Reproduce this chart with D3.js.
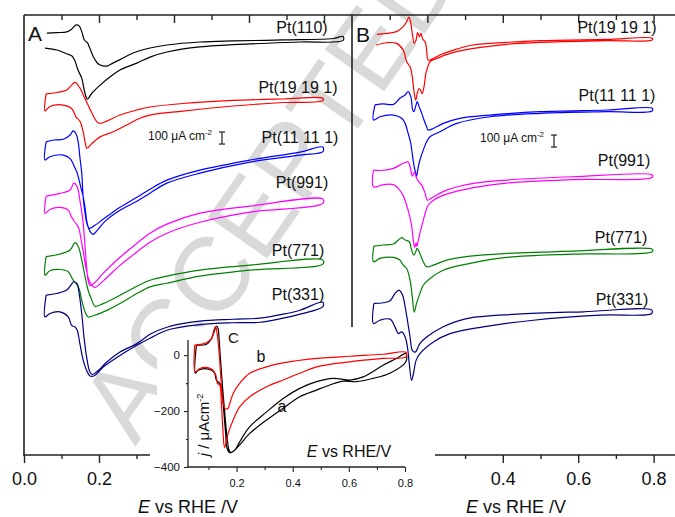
<!DOCTYPE html>
<html>
<head>
<meta charset="utf-8">
<script src="https://cdn.jsdelivr.net/npm/d3@7"></script>
<style>
  body { margin: 0; background: #fff; }
  svg { display: block; font-family: Arial, "Liberation Sans", sans-serif; }
</style>
</head>
<body>
<svg id="chart" width="675" height="517"></svg>
<script>
// ---------- Panel A: CVs on stepped Pt(110)-vicinal surfaces, [E (V), j (µA cm^-2)] ----------
const pt110A_fwd = [[0.061,56],[0.087,61],[0.114,67],[0.127,89],[0.139,125],[0.147,117],[0.154,69],[0.160,6],[0.165,-14],[0.169,-22],[0.174,-56],[0.185,-139],[0.195,-189],[0.203,-208],[0.221,-217],[0.237,-192],[0.256,-163],[0.291,-108],[0.336,-67],[0.381,-42],[0.469,-17],[0.557,-8],[0.691,0],[0.824,12],[0.851,29]];
const pt110A_rev = [[0.851,-4],[0.736,-17],[0.603,-33],[0.469,-58],[0.381,-100],[0.336,-142],[0.301,-192],[0.256,-250],[0.229,-308],[0.203,-375],[0.181,-442],[0.169,-492],[0.165,-467],[0.160,-408],[0.154,-317],[0.144,-250],[0.136,-175],[0.128,-133],[0.115,-117],[0.088,-83],[0.056,-67]];

const pt19A_fwd = [[0.059,50],[0.087,62],[0.114,83],[0.125,117],[0.136,146],[0.149,100],[0.158,42],[0.167,-17],[0.181,-108],[0.194,-179],[0.203,-194],[0.221,-175],[0.256,-125],[0.301,-83],[0.336,-58],[0.424,-29],[0.557,-4],[0.691,8],[0.797,14]];
const pt19A_rev = [[0.797,-6],[0.691,-21],[0.557,-50],[0.424,-92],[0.336,-125],[0.309,-152],[0.274,-208],[0.238,-264],[0.203,-306],[0.181,-361],[0.168,-400],[0.163,-350],[0.158,-267],[0.149,-175],[0.139,-142],[0.127,-71],[0.105,-42],[0.069,-54],[0.056,-92]];

const pt11A_fwd = [[0.059,67],[0.078,83],[0.105,89],[0.123,125],[0.131,158],[0.139,133],[0.145,58],[0.149,-58],[0.154,-192],[0.158,-400],[0.163,-525],[0.167,-600],[0.174,-650],[0.189,-625],[0.211,-575],[0.256,-475],[0.301,-392],[0.336,-325],[0.381,-250],[0.469,-167],[0.603,-83],[0.736,-17],[0.797,25]];
const pt11A_rev = [[0.797,-14],[0.736,-42],[0.603,-100],[0.469,-192],[0.381,-275],[0.336,-358],[0.301,-425],[0.256,-500],[0.216,-592],[0.195,-667],[0.184,-700],[0.176,-675],[0.168,-600],[0.163,-483],[0.157,-375],[0.152,-317],[0.147,-250],[0.141,-183],[0.136,-150],[0.130,-108],[0.123,-71],[0.105,-42],[0.069,-56],[0.056,-83]];

const pt991A_fwd = [[0.059,50],[0.096,72],[0.123,100],[0.133,158],[0.142,125],[0.149,17],[0.157,-150],[0.163,-375],[0.167,-542],[0.171,-650],[0.176,-692],[0.189,-667],[0.211,-592],[0.256,-458],[0.301,-342],[0.336,-258],[0.381,-183],[0.469,-92],[0.603,-33],[0.797,25]];
const pt991A_rev = [[0.797,-11],[0.603,-83],[0.469,-167],[0.381,-258],[0.336,-333],[0.301,-414],[0.256,-525],[0.221,-625],[0.189,-708],[0.181,-692],[0.171,-625],[0.163,-508],[0.154,-342],[0.145,-208],[0.136,-167],[0.127,-125],[0.118,-67],[0.096,-44],[0.069,-61],[0.056,-94]];

const pt771A_fwd = [[0.059,53],[0.096,75],[0.123,108],[0.136,169],[0.145,136],[0.154,25],[0.163,-114],[0.171,-225],[0.181,-308],[0.189,-358],[0.211,-336],[0.256,-267],[0.301,-192],[0.336,-142],[0.381,-108],[0.469,-58],[0.603,-17],[0.797,25]];
const pt771A_rev = [[0.797,-8],[0.603,-58],[0.469,-108],[0.381,-167],[0.336,-197],[0.301,-253],[0.256,-336],[0.221,-392],[0.189,-433],[0.171,-447],[0.163,-406],[0.154,-308],[0.145,-197],[0.131,-142],[0.118,-72],[0.096,-53],[0.069,-64],[0.056,-100]];

const pt331A_fwd = [[0.059,83],[0.087,97],[0.114,125],[0.127,175],[0.133,194],[0.141,181],[0.147,97],[0.154,-69],[0.160,-264],[0.167,-431],[0.176,-556],[0.183,-575],[0.198,-542],[0.221,-472],[0.256,-389],[0.301,-319],[0.336,-242],[0.381,-183],[0.469,-133],[0.557,-117],[0.629,-108],[0.691,-75],[0.736,-42],[0.797,25]];
const pt331A_rev = [[0.797,-12],[0.736,-75],[0.691,-108],[0.629,-142],[0.557,-146],[0.469,-162],[0.381,-208],[0.336,-275],[0.301,-333],[0.256,-417],[0.211,-514],[0.189,-583],[0.176,-588],[0.167,-542],[0.158,-458],[0.149,-319],[0.142,-208],[0.136,-181],[0.127,-167],[0.118,-97],[0.096,-56],[0.069,-69],[0.056,-97]];

// ---------- Panel B ----------
const pt19B_fwd = [[0.066,39],[0.092,47],[0.118,61],[0.136,103],[0.145,144],[0.151,181],[0.156,131],[0.161,19],[0.165,-36],[0.170,-8],[0.174,53],[0.179,19],[0.183,47],[0.188,-3],[0.194,-22],[0.198,-92],[0.202,-175],[0.211,-169],[0.233,-133],[0.269,-92],[0.321,-50],[0.410,-28],[0.499,-14],[0.676,-3],[0.797,6]];
const pt19B_rev = [[0.796,-8],[0.676,-14],[0.499,-28],[0.410,-44],[0.322,-78],[0.260,-119],[0.225,-161],[0.207,-189],[0.201,-231],[0.196,-286],[0.191,-397],[0.186,-453],[0.182,-425],[0.178,-411],[0.173,-453],[0.169,-508],[0.164,-425],[0.160,-314],[0.154,-231],[0.145,-189],[0.136,-92],[0.118,-36],[0.092,-31],[0.064,-50]];

const pt11B_fwd = [[0.061,42],[0.083,50],[0.110,47],[0.127,97],[0.141,125],[0.149,153],[0.156,111],[0.161,0],[0.164,-14],[0.170,42],[0.173,69],[0.178,28],[0.185,-28],[0.191,-83],[0.198,-139],[0.202,-167],[0.216,-153],[0.242,-111],[0.286,-69],[0.366,-42],[0.499,-14],[0.676,0],[0.797,14]];
const pt11B_rev = [[0.796,-8],[0.676,-14],[0.499,-28],[0.366,-56],[0.278,-111],[0.233,-181],[0.207,-222],[0.198,-264],[0.189,-333],[0.180,-417],[0.176,-467],[0.171,-550],[0.168,-510],[0.165,-472],[0.161,-389],[0.156,-278],[0.149,-194],[0.141,-111],[0.132,-69],[0.110,-42],[0.074,-56],[0.057,-83]];

const pt991B_fwd = [[0.057,50],[0.074,46],[0.110,64],[0.136,106],[0.149,117],[0.155,67],[0.160,0],[0.166,33],[0.171,-17],[0.178,-50],[0.185,-75],[0.194,-144],[0.200,-200],[0.216,-172],[0.251,-117],[0.322,-61],[0.410,-33],[0.586,-6],[0.797,8]];
const pt991B_rev = [[0.796,-12],[0.586,-29],[0.410,-58],[0.322,-96],[0.251,-150],[0.216,-200],[0.202,-242],[0.195,-300],[0.189,-367],[0.180,-475],[0.176,-533],[0.172,-583],[0.170,-554],[0.166,-592],[0.162,-517],[0.158,-408],[0.151,-308],[0.145,-242],[0.135,-158],[0.122,-100],[0.110,-71],[0.083,-71],[0.057,-89]];

const pt771B_fwd = [[0.058,33],[0.083,42],[0.110,50],[0.123,83],[0.132,103],[0.141,83],[0.152,69],[0.158,0],[0.164,-42],[0.169,-14],[0.173,14],[0.180,-28],[0.189,-97],[0.198,-139],[0.216,-125],[0.251,-83],[0.313,-50],[0.410,-28],[0.587,-8],[0.797,6]];
const pt771B_rev = [[0.796,-14],[0.586,-33],[0.410,-61],[0.313,-111],[0.242,-167],[0.207,-236],[0.189,-292],[0.180,-361],[0.171,-444],[0.165,-514],[0.160,-389],[0.154,-250],[0.145,-153],[0.136,-125],[0.127,-83],[0.110,-61],[0.074,-69],[0.057,-97]];

const pt331B_fwd = [[0.058,72],[0.083,78],[0.101,94],[0.114,156],[0.125,183],[0.134,142],[0.141,44],[0.147,-67],[0.154,-206],[0.160,-317],[0.168,-331],[0.180,-261],[0.198,-206],[0.242,-121],[0.304,-53],[0.437,-17],[0.614,3],[0.795,17]];
const pt331B_rev = [[0.795,-11],[0.658,-25],[0.481,-67],[0.348,-122],[0.260,-178],[0.216,-247],[0.180,-344],[0.170,-400],[0.163,-511],[0.158,-567],[0.152,-428],[0.147,-289],[0.141,-206],[0.132,-164],[0.123,-178],[0.114,-122],[0.101,-58],[0.074,-67],[0.057,-94]];

// ---------- Inset C: two CVs (a, b) on a common current axis ----------
const insetA_fwd = [[0.057,36],[0.093,39],[0.111,60],[0.122,89],[0.128,104],[0.134,95],[0.138,54],[0.143,-18],[0.150,-113],[0.158,-208],[0.166,-292],[0.173,-339],[0.179,-348],[0.194,-339],[0.211,-310],[0.247,-256],[0.307,-203],[0.366,-155],[0.425,-119],[0.485,-95],[0.544,-83],[0.604,-89],[0.651,-78],[0.722,-36],[0.770,-12],[0.803,6]];
const insetA_rev = [[0.803,-24],[0.746,-65],[0.687,-83],[0.627,-95],[0.580,-93],[0.532,-107],[0.485,-125],[0.425,-149],[0.366,-190],[0.307,-232],[0.247,-280],[0.211,-321],[0.188,-345],[0.176,-349],[0.166,-333],[0.161,-280],[0.154,-196],[0.146,-113],[0.140,-101],[0.128,-89],[0.122,-65],[0.111,-54],[0.087,-48],[0.063,-54],[0.053,-65]];
const insetB_fwd = [[0.051,36],[0.087,42],[0.111,60],[0.120,92],[0.125,101],[0.130,83],[0.137,18],[0.143,-65],[0.148,-137],[0.154,-179],[0.161,-193],[0.170,-190],[0.176,-173],[0.188,-137],[0.211,-101],[0.247,-65],[0.307,-42],[0.366,-28],[0.485,-12],[0.604,-4],[0.722,3],[0.803,10]];
const insetB_rev = [[0.803,-6],[0.722,-12],[0.604,-24],[0.485,-42],[0.425,-65],[0.366,-89],[0.307,-113],[0.247,-149],[0.211,-185],[0.188,-232],[0.170,-280],[0.161,-321],[0.157,-330],[0.152,-280],[0.146,-173],[0.140,-107],[0.132,-101],[0.126,-71],[0.116,-54],[0.093,-44],[0.069,-48],[0.053,-60]];

// ---------- series meta ----------
const labelsA  = ["Pt(110)", "Pt(19 19 1)", "Pt(11 11 1)", "Pt(991)", "Pt(771)", "Pt(331)"];
const offsetsA = [-207, -705, -1120, -1552, -2058, -2407];   // vertical stacking shift, µA cm^-2
const labelsB  = ["Pt(19 19 1)", "Pt(11 11 1)", "Pt(991)", "Pt(771)", "Pt(331)"];
const offsetsB = [-199, -788, -1336, -1950, -2465];
const insetLabels = ["a", "b"];
const scaleBarValue = 100;                       // µA cm^-2
const xTicksMajor = [0, 0.2, 0.4, 0.6, 0.8];
const xTicksMinor = [0.1, 0.3, 0.5, 0.7];
const insetYTicks = [0, -200, -400];
const insetYMinor = [-100, -300];

// ---------- styling / layout ----------
const colorsA = ["#000000", "#ff0000", "#0000ff", "#ff00ff", "#008000", "#000080"];
const colorsB = ["#ff0000", "#0000ff", "#ff00ff", "#008000", "#000080"];
const closedA = [false, true, true, true, true, true];
const closedB = [false, true, true, true, true];
const labelPosA = [[302, 33], [298, 93], [300, 143], [302, 188], [298, 256], [298, 300]];
const labelPosB = [[617, 33], [617, 101], [624, 166], [621, 243], [622, 305]];

const seriesA = [[pt110A_fwd, pt110A_rev], [pt19A_fwd, pt19A_rev], [pt11A_fwd, pt11A_rev],
                 [pt991A_fwd, pt991A_rev], [pt771A_fwd, pt771A_rev], [pt331A_fwd, pt331A_rev]];
const seriesB = [[pt19B_fwd, pt19B_rev], [pt11B_fwd, pt11B_rev], [pt991B_fwd, pt991B_rev],
                 [pt771B_fwd, pt771B_rev], [pt331B_fwd, pt331B_rev]];
const seriesInset = [[insetA_fwd, insetA_rev], [insetB_fwd, insetB_rev]];
const colorsInset = ["#000000", "#ff0000"];

const svg = d3.select("#chart");
const AXIS = "#222";

// scales
const xA = d3.scaleLinear().domain([0, 0.8747]).range([24, 352]);
const xB = d3.scaleLinear().domain([0, 0.8568]).range([352, 675]);
const yMain = d3.scaleLinear().domain([-3650, 0]).range([455, 15]);
const xIn = d3.scaleLinear().domain([0.027, 0.8]).range([188, 405]);
const yIn = d3.scaleLinear().domain([-400, 54]).range([467, 340]);

// watermark
svg.append("text")
  .attr("transform", "translate(135,447) rotate(-55)")
  .attr("font-size", 105)
  .attr("fill", "#d9d9d9")
  .text("ACCEPTED");

// white backing of the inset
svg.append("rect").attr("x", 157).attr("y", 327).attr("width", 278).attr("height", 190).attr("fill", "#fff");

// ---------- main frame ----------
function seg(x1, y1, x2, y2, w) {
  svg.append("line").attr("x1", x1).attr("y1", y1).attr("x2", x2).attr("y2", y2)
    .attr("stroke", AXIS).attr("stroke-width", w || 1.6);
}
seg(24, 15, 675, 15);                 // top
seg(24, 15, 24, 455.8);               // left of A
seg(352, 15, 352, 327);               // left of B
seg(23.2, 455, 150, 455);             // bottom of A (visible part)
seg(435, 455, 675, 455);              // bottom of B (visible part)

function ticks(axisGen, y, values, size, labels, pad) {
  const g = svg.append("g").attr("transform", `translate(0,${y})`)
    .call(axisGen.tickValues(values).tickSize(size).tickPadding(pad || 3)
      .tickFormat(labels ? d3.format(".1f") : ""));
  g.select(".domain").remove();
  g.selectAll(".tick line").attr("stroke", AXIS).attr("stroke-width", 1.4);
  g.selectAll(".tick text").attr("fill", "#111").attr("font-size", 18)
    .attr("font-family", "Arial, 'Liberation Sans', sans-serif");
  return g;
}
// top (inward) ticks
ticks(d3.axisBottom(xA), 15, xTicksMajor.filter(v => v > 0), 8, false);
ticks(d3.axisBottom(xA), 15, xTicksMinor, 5, false);
ticks(d3.axisBottom(xB), 15, xTicksMajor.filter(v => v > 0), 8, false);
ticks(d3.axisBottom(xB), 15, xTicksMinor, 5, false);
// bottom ticks (only where the inset does not cover them)
ticks(d3.axisBottom(xA), 455, xTicksMajor.filter(v => v <= 0.2), 8, true, 9);
ticks(d3.axisBottom(xA), 455, xTicksMinor.filter(v => v <= 0.3), 4, false);
ticks(d3.axisBottom(xB), 455, xTicksMajor.filter(v => v >= 0.4), 8, true, 9);
ticks(d3.axisBottom(xB), 455, xTicksMinor.filter(v => v >= 0.3), 4, false);

// axis titles
function eTitle(cx, y, size) {
  const t = svg.append("text").attr("x", cx).attr("y", y).attr("text-anchor", "middle")
    .attr("font-size", size).attr("fill", "#111");
  t.append("tspan").attr("font-style", "italic").text("E");
  t.append("tspan").text(" vs RHE /V");
  return t;
}
eTitle(188, 513, 18);
eTitle(516, 513, 18);

// panel letters
svg.append("text").attr("x", 28).attr("y", 41).attr("font-size", 21).attr("fill", "#111").text("A");
svg.append("text").attr("x", 356).attr("y", 42).attr("font-size", 21).attr("fill", "#111").text("B");

// ---------- curves ----------
function cvPath(xs, ys, fwd, rev, off, closed) {
  const pts = fwd.concat(rev);
  if (closed) pts.push(fwd[0]);
  return d3.line().x(d => xs(d[0])).y(d => ys(d[1] + off))
    .curve(d3.curveCatmullRom.alpha(0.5))(pts);
}
seriesA.forEach((s, i) => {
  svg.append("path").attr("d", cvPath(xA, yMain, s[0], s[1], offsetsA[i], closedA[i]))
    .attr("fill", "none").attr("stroke", colorsA[i]).attr("stroke-width", 1.2);
  svg.append("text").attr("x", labelPosA[i][0]).attr("y", labelPosA[i][1])
    .attr("text-anchor", "middle").attr("font-size", 16).attr("fill", "#111").text(labelsA[i]);
});
seriesB.forEach((s, i) => {
  svg.append("path").attr("d", cvPath(xB, yMain, s[0], s[1], offsetsB[i], closedB[i]))
    .attr("fill", "none").attr("stroke", colorsB[i]).attr("stroke-width", 1.2);
  svg.append("text").attr("x", labelPosB[i][0]).attr("y", labelPosB[i][1])
    .attr("text-anchor", "middle").attr("font-size", 16).attr("fill", "#111").text(labelsB[i]);
});

// scale bars (100 µA cm^-2)
function scaleBar(x, yTop, textX, textY) {
  const len = yMain(0) - yMain(scaleBarValue);
  const g = svg.append("g").attr("stroke", AXIS).attr("stroke-width", 1.2);
  g.append("line").attr("x1", x).attr("x2", x).attr("y1", yTop).attr("y2", yTop + len);
  g.append("line").attr("x1", x - 3).attr("x2", x + 3).attr("y1", yTop).attr("y2", yTop);
  g.append("line").attr("x1", x - 3).attr("x2", x + 3).attr("y1", yTop + len).attr("y2", yTop + len);
  const t = svg.append("text").attr("x", textX).attr("y", textY).attr("font-size", 12).attr("fill", "#111");
  t.append("tspan").text(scaleBarValue + " μA cm");
  t.append("tspan").attr("font-size", 8).attr("dy", -5).text("-2");
}
scaleBar(222, 132, 148, 140);
scaleBar(554, 135, 480, 142);

// ---------- inset C ----------
seg(188, 340, 188, 467.6, 1.3);
seg(187.4, 467, 405, 467, 1.3);
function insetTicks(axisGen, tx, ty, values, size, labels, pad, fs) {
  const g = svg.append("g").attr("transform", `translate(${tx},${ty})`)
    .call(axisGen.tickValues(values).tickSize(size).tickPadding(pad || 2)
      .tickFormat(labels ? labels : ""));
  g.select(".domain").remove();
  g.selectAll(".tick line").attr("stroke", AXIS).attr("stroke-width", 1.1);
  g.selectAll(".tick text").attr("fill", "#111").attr("font-size", fs || 11)
    .attr("font-family", "Arial, 'Liberation Sans', sans-serif");
}
insetTicks(d3.axisBottom(xIn), 0, 467, [0.2, 0.4, 0.6, 0.8], 5, d3.format(".1f"), 7, 11);
insetTicks(d3.axisBottom(xIn), 0, 467, [0.1, 0.3, 0.5, 0.7], 3, null);
insetTicks(d3.axisLeft(yIn), 188, 0, insetYTicks, 4, d3.format("d"), 4, 11.5);
insetTicks(d3.axisLeft(yIn), 188, 0, insetYMinor, 2, null);

seriesInset.forEach((s, i) => {
  svg.append("path").attr("d", cvPath(xIn, yIn, s[0], s[1], 0, true))
    .attr("fill", "none").attr("stroke", colorsInset[i]).attr("stroke-width", 1.2);
});
svg.append("text").attr("x", 282).attr("y", 412).attr("text-anchor", "middle").attr("font-size", 16).attr("fill", "#111").text(insetLabels[0]);
svg.append("text").attr("x", 261).attr("y", 361.5).attr("text-anchor", "middle").attr("font-size", 16).attr("fill", "#111").text(insetLabels[1]);
svg.append("text").attr("x", 228).attr("y", 342.5).attr("font-size", 15).attr("fill", "#111").text("C");

const yl = svg.append("text").attr("transform", "translate(209,425) rotate(-90)")
  .attr("text-anchor", "middle").attr("font-size", 15).attr("fill", "#111");
yl.append("tspan").attr("font-style", "italic").text("j");
yl.append("tspan").text(" / μAcm");
yl.append("tspan").attr("font-size", 9).attr("dy", -6).text("-2");

const xl = svg.append("text").attr("x", 349).attr("y", 456.5).attr("text-anchor", "middle")
  .attr("font-size", 16).attr("fill", "#111");
xl.append("tspan").attr("font-style", "italic").text("E");
xl.append("tspan").text(" vs RHE/V");
</script>
</body>
</html>
